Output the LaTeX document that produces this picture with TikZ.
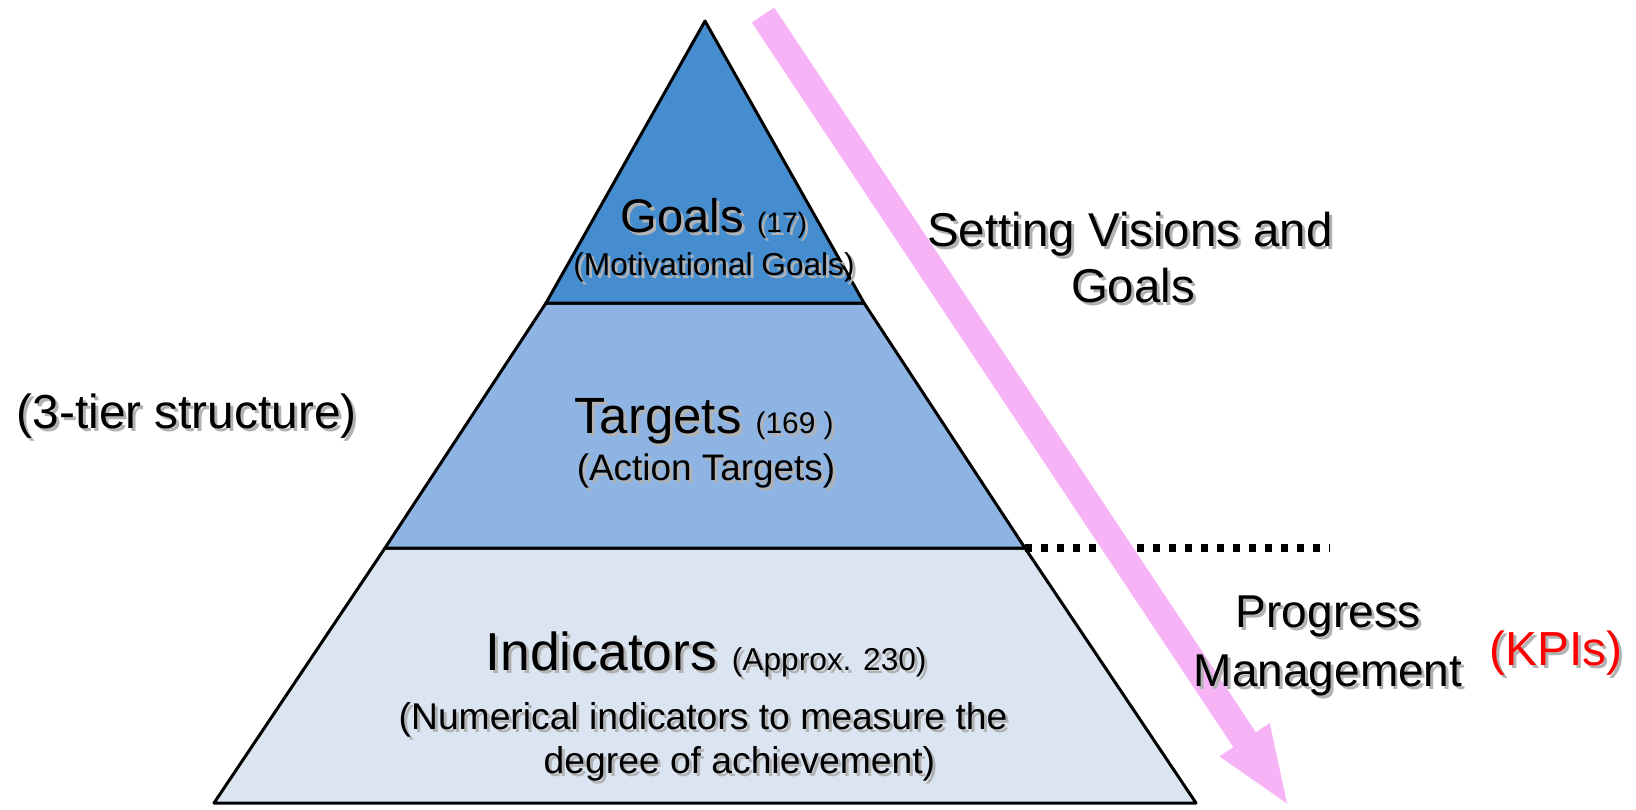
\documentclass[tikz,border=0pt]{standalone}
\usepackage{fontspec}
\setmainfont{Liberation Sans}
\usepackage{xcolor}
\usetikzlibrary{arrows.meta}

\definecolor{goalblue}{RGB}{70,141,208}
\definecolor{targetblue}{RGB}{142,180,227}
\definecolor{indicblue}{RGB}{219,229,242}
\definecolor{arrowpink}{RGB}{246,180,246}

\newcommand{\fs}[2]{\fontsize{#1}{#2}\selectfont}
% soft drop shadow behind a label
\newcommand{\shad}[1]{\leavevmode\rlap{\kern0.3mm\raisebox{-0.3mm}{\color{black!30}#1}}#1}

\begin{document}
\begin{tikzpicture}[x=0.1mm,y=-0.1mm,
  tier/.style={draw=black,line width=0.3mm,line join=round},
  lbl/.style={inner sep=0pt,anchor=base},
  lblw/.style={inner sep=0pt,anchor=base west}]
\useasboundingbox (0,0) rectangle (1636,809);

% pyramid corners
\coordinate (top) at (705,21);
\coordinate (gl) at (546,303);
\coordinate (gr) at (864,303);
\coordinate (tl) at (385,548);
\coordinate (tr) at (1025,548);
\coordinate (il) at (214,803);
\coordinate (ir) at (1196,803);
\coordinate (dotend) at (1330,548);
\coordinate (arrtop) at (763,15);
\coordinate (arrtip) at (1290,808);

% tiers
\filldraw[tier,fill=indicblue] (tl) -- (tr) -- (ir) -- (il) -- cycle;
\filldraw[tier,fill=targetblue] (gl) -- (gr) -- (tr) -- (tl) -- cycle;
\filldraw[tier,fill=goalblue] (top) -- (gr) -- (gl) -- cycle;

\draw[line width=0.8mm,dash pattern=on 0.7mm off 0.9mm] (tr) -- (dotend);

\draw[arrowpink,line width=2.7mm,-{Triangle[width=5.3mm,length=8.2mm]}] (arrtop) -- (arrtip);

% labels
\node[lbl] (goals) at (714,232) {\shad{\fs{13.4}{16}Goals \fs{8}{10}(17)}};
\node[lbl] (goalsub) at (714,275) {\shad{\fs{9}{11}(Motivational Goals)}};
\node[lbl] (targets) at (704,433) {\shad{\fs{14.5}{17}Targets \fs{8.5}{10}(169 )}};
\node[lbl] (targetsub) at (706,480) {\shad{\fs{10.5}{12}(Action Targets)}};
\node[lbl] (indic) at (706,670) {\shad{\fs{15.2}{18}Indicators \fs{9}{11}(Approx. 230)}};
\node[lblw] (indicsub) at (398,729) {\shad{\fs{10.6}{12.5}(Numerical indicators to measure the}};
\node[lblw] (indicsub2) at (543,773) {\shad{\fs{10.6}{12.5}degree of achievement)}};
\node[lblw] (tiers) at (16,428) {\shad{\fs{13.6}{16}(3-tier structure)}};
\node[lbl] (setting) at (1130,246) {\shad{\fs{13.5}{15}Setting Visions and}};
\node[lbl] (setting2) at (1133,302) {\shad{\fs{13.5}{15}Goals}};
\node[lbl] (progress) at (1328,627) {\shad{\fs{13.1}{16}Progress}};
\node[lbl] (manage) at (1328,686) {\shad{\fs{13.1}{16}Management}};
\node[lblw,text=red] (kpi) at (1489,665) {\shad{\fs{13.6}{16}(KPIs)}};
\end{tikzpicture}
\end{document}
